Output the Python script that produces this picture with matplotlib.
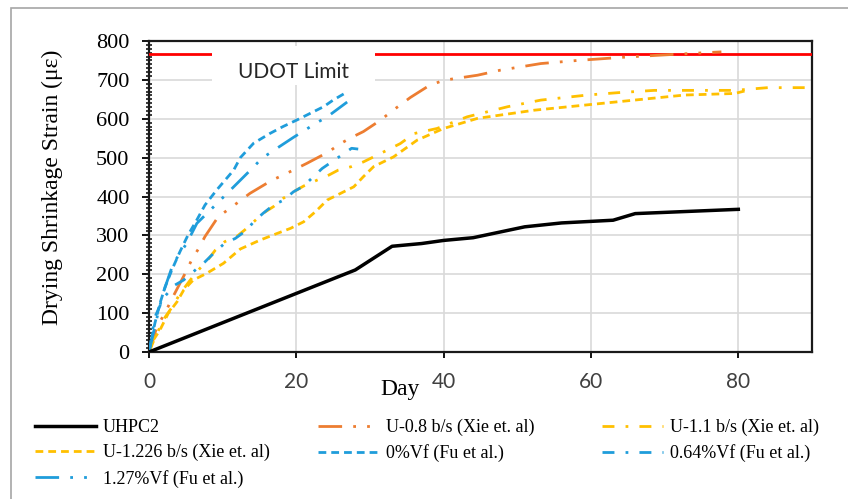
import matplotlib
matplotlib.use("Agg")
import matplotlib.pyplot as plt
from matplotlib.patches import Rectangle
from matplotlib.ticker import MultipleLocator

# ---- data (day, micro-strain) ----
uhpc2_x = [0, 28, 33, 37, 40, 44, 51, 56, 63, 66, 80]
uhpc2_y = [0, 211, 272, 279, 287, 294, 322, 332, 339, 356, 367]

u08_x = [0, 1, 2.6, 3.5, 4.9, 5.8, 6.7, 7.6, 9.4, 10.8, 12.3, 13.7, 16.7, 18.2, 19.8,
         21.4, 24.4, 25.8, 27.4, 29.1, 31.4, 33, 35.5, 38, 40, 44.6, 47.7, 53.2, 58.2, 65,
         73.6, 77.7]
u08_y = [0, 60, 117, 151, 202, 237, 265, 297, 348, 367, 388, 408, 442, 455, 470,
         485, 515, 534, 551, 567, 596, 620, 655, 685, 699, 712, 725, 742, 750, 759,
         768, 772]

u11_x = [0, 1, 2.2, 3.3, 4.2, 5.6, 6.7, 7.8, 9, 10.3, 11.9, 13, 15.5, 16.9, 18.2, 19.6, 21,
         22.8, 24.4, 25.7, 27.5, 29.1, 30.5, 34.1, 36, 39.1, 43.2, 48.7, 53.2, 59.5, 63.6,
         68.6, 74, 79.5, 84, 90]
u11_y = [0, 45, 90, 120, 150, 185, 211, 232, 262, 284, 297, 314, 357, 374, 395, 412, 427,
         442, 455, 468, 477, 489, 502, 536, 562, 575, 605, 631, 648, 661, 667,
         673, 673, 673, 680, 680]

u1226_x = [0, 0.6, 1.5, 2.6, 3.8, 4.7, 6, 7.8, 10.1, 12.4, 15.1, 17.4, 19.2, 21, 22.6, 24.2,
           26, 27.8, 29.1, 30.5, 33.2, 36.4, 40, 44.6, 52.3, 59.1, 65.9, 72.7, 79.5, 81]
u1226_y = [0, 31, 57, 99, 129, 159, 185, 202, 228, 265, 288, 305, 318, 335, 361, 391,
           408, 425, 451, 477, 502, 545, 575, 601, 622, 635, 648, 661, 665, 672]

vf0_x = [0, 0.4, 0.8, 1.5, 2.2, 3.1, 4.2, 5.3, 6.5, 7.6, 9.2, 11.5, 12.4, 14.2, 16.4, 18.2,
         20.1, 21.9, 23.7, 25, 26.9]
vf0_y = [0, 39, 74, 126, 168, 211, 258, 301, 340, 378, 417, 468, 500, 537, 562, 580,
         597, 614, 631, 648, 669]

vf064_x = [0, 0.8, 2, 3.5, 4.7, 6.3, 7.6, 9, 10.3, 11.7, 13.3, 14.2, 15.5, 16.9, 18.3, 19.6,
           21, 22.1, 23.5, 24.8, 26.2, 27.5, 28.4]
vf064_y = [0, 90, 140, 172, 185, 211, 232, 258, 280, 292, 314, 335, 357, 378, 391, 412,
           427, 447, 472, 489, 507, 524, 522]

vf127_x = [0, 1, 1.9, 3.3, 5.1, 6.5, 8.8, 11.5, 14.2, 15.3, 18, 19.6, 21.2, 22.6, 24.2, 26.9]
vf127_y = [0, 82, 151, 228, 279, 331, 374, 425, 476, 498, 532, 552, 571, 588, 605, 643]

udot_limit = 766

ORANGE = "#ED7D31"
GOLD = "#FFC000"
BLUE = "#1F9DDB"

dashed = (2.8, 1.8)
dash_dot = (4.3, 4, 1, 4)
dash_dot_dot = (8.5, 4, 1, 4, 1, 4)

W, H = 848, 499
fig = plt.figure(figsize=(W / 100, H / 100), dpi=100)
ax = fig.add_axes([149 / W, 1 - 352 / H, (812 - 149) / W, (352 - 41) / H])

lw = 2.0
l_uhpc, = ax.plot(uhpc2_x, uhpc2_y, color="black", lw=2.5, zorder=5, label="UHPC2")
l_08, = ax.plot(u08_x, u08_y, color=ORANGE, lw=lw, dashes=dash_dot_dot, zorder=4,
                label="U-0.8 b/s (Xie et. al)")
l_11, = ax.plot(u11_x, u11_y, color=GOLD, lw=lw, dashes=dash_dot, zorder=4,
                label="U-1.1 b/s (Xie et. al)")
l_1226, = ax.plot(u1226_x, u1226_y, color=GOLD, lw=lw, dashes=dashed, zorder=4,
                  label="U-1.226 b/s (Xie et. al)")
l_0, = ax.plot(vf0_x, vf0_y, color=BLUE, lw=lw, dashes=dashed, zorder=4,
               label="0%Vf (Fu et al.)")
l_064, = ax.plot(vf064_x, vf064_y, color=BLUE, lw=lw, dashes=dash_dot, zorder=4,
                 label="0.64%Vf (Fu et al.)")
l_127, = ax.plot(vf127_x, vf127_y, color=BLUE, lw=lw, dashes=dash_dot_dot, zorder=4,
                 label="1.27%Vf (Fu et al.)")

ax.axhline(udot_limit, color="#FF0000", lw=2.0, zorder=3)
ax.add_patch(Rectangle((8.6, 688), 22.1, 100, facecolor="white", edgecolor="none", zorder=3.5))
ax.text(19.6, 721, "UDOT Limit", ha="center", va="center", fontsize=15,
        family="Lato", color="#262626", zorder=3.6)

ax.set_xlim(0, 90)
ax.set_ylim(0, 800)
ax.xaxis.set_major_locator(MultipleLocator(20))
ax.yaxis.set_major_locator(MultipleLocator(100))
ax.yaxis.set_minor_locator(MultipleLocator(10))
ax.grid(True, which="major", color="#d9d9d9", lw=1.2, zorder=0)
ax.set_axisbelow(True)

for s in ax.spines.values():
    s.set_linewidth(1.6)
    s.set_color("#1a1a1a")

ax.tick_params(axis="y", which="major", direction="out", length=5, width=1.3, pad=9,
               labelsize=16)
ax.tick_params(axis="y", which="minor", direction="inout", length=4.5, width=1.2,
               color="#1a1a1a")
ax.tick_params(axis="x", which="major", direction="out", length=4.5, width=1.3, pad=10,
               labelsize=15, labelcolor="#404040")
for t in ax.get_yticklabels():
    t.set_family("Liberation Serif")
for t in ax.get_xticklabels():
    t.set_family("Lato")

fig.text(52 / W, 1 - 187 / H, "Drying Shrinkage Strain (\u03bc\u03b5)", rotation=90,
         ha="center", va="center", fontsize=17, family="Liberation Serif")
fig.text(400 / W, 1 - 389 / H, "Day", ha="center", va="center", fontsize=17,
         family="Liberation Serif")

# legend laid out as three columns, rows filled left to right like the original
cols = [([l_uhpc, l_1226, l_127], 35), ([l_08, l_0], 318), ([l_11, l_064], 602)]
for handles, x0 in cols:
    fig.legend(handles=handles, labels=[h.get_label() for h in handles],
               loc="upper left", bbox_to_anchor=(x0 / W, 1 - 419 / H),
               frameon=False, borderpad=0, borderaxespad=0, handlelength=3.4,
               handletextpad=0.35, labelspacing=0.45,
               prop={"family": "Liberation Serif", "size": 13})

# outer chart-area border
fig.add_artist(Rectangle((11 / W, -0.1), 1.2, 1.1 - 8 / H, transform=fig.transFigure,
                         fill=False, edgecolor="#a6a6a6", lw=1.2))

fig.savefig("out.png", dpi=100)
